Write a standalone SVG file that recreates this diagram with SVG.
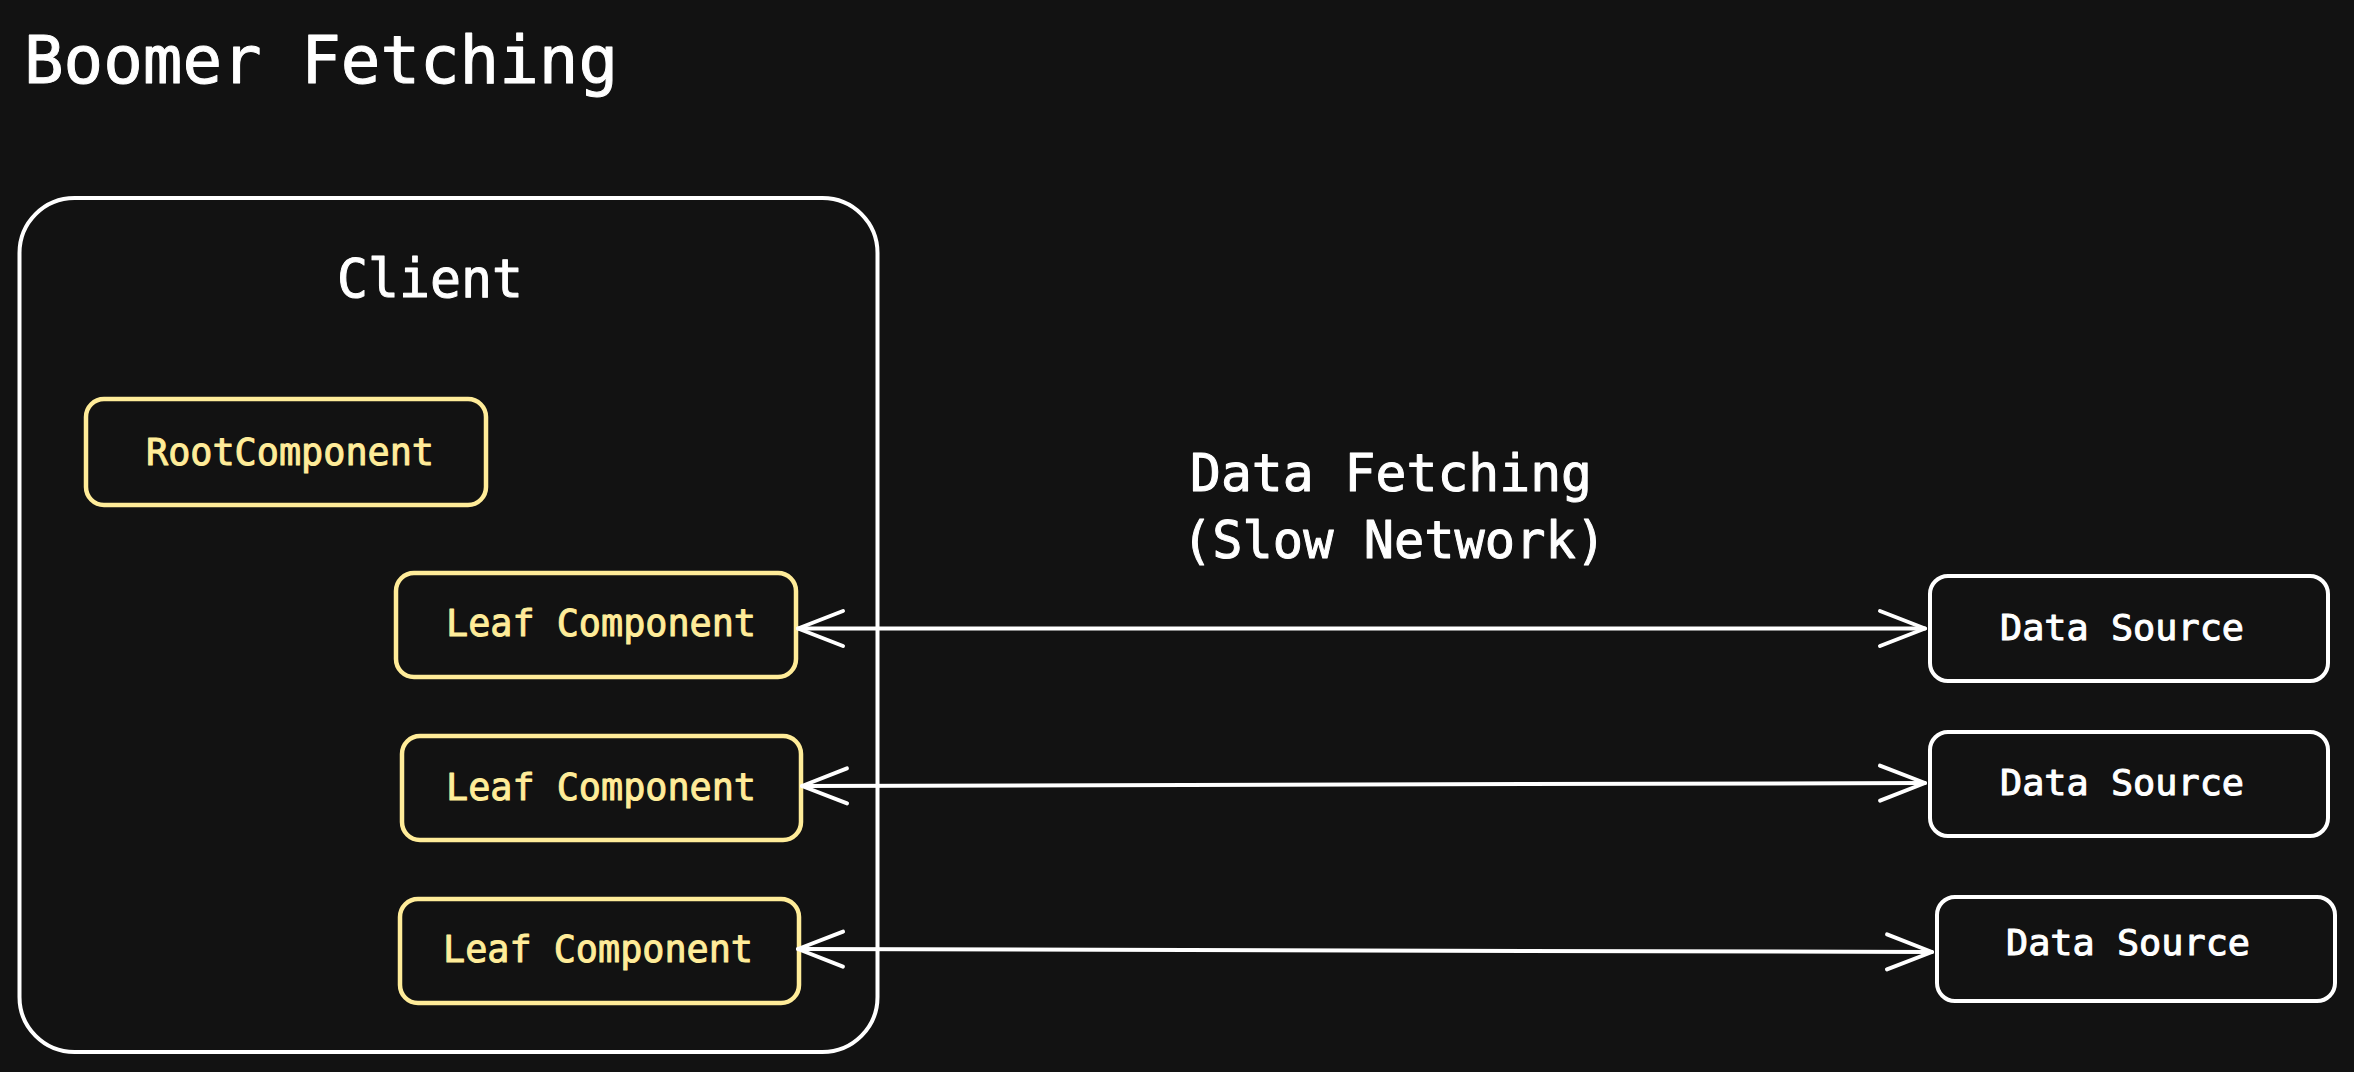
<svg xmlns="http://www.w3.org/2000/svg" width="2354" height="1072" viewBox="0 0 2354 1072">
  <style>
    .bg { fill: #121212; }
    .frame { fill: none; stroke: #ffffff; stroke-width: 4; }
    .ybox { fill: none; stroke: #ffec99; stroke-width: 4.5; }
    .wbox { fill: none; stroke: #ffffff; stroke-width: 4; }
    .t { font-family: "DejaVu Sans Mono", "Liberation Mono", monospace; stroke-width: 1; stroke-linejoin: round; }
    .white { fill: #ffffff; stroke: #ffffff; }
    .yellow { fill: #ffec99; stroke: #ffec99; }
    .conn { fill: none; stroke: #ffffff; stroke-width: 4; stroke-linecap: round; }
  </style>
  <defs>
    <marker id="head" markerUnits="userSpaceOnUse" markerWidth="60" markerHeight="50" refX="50" refY="20" orient="auto-start-reverse" overflow="visible">
      <path d="M5 2.5 L50 20 L5 37.5" fill="none" stroke="#ffffff" stroke-width="4" stroke-linecap="round" stroke-linejoin="round"/>
    </marker>
  </defs>
  <rect class="bg" x="0" y="0" width="2354" height="1072"/>

  <g id="title">
    <text class="t white" x="24" y="83" font-size="66" textLength="594" lengthAdjust="spacingAndGlyphs">Boomer Fetching</text>
  </g>

  <g id="client">
    <rect class="frame" x="19.5" y="198" width="858" height="854" rx="55" ry="55"/>
    <text class="t white" x="337" y="297" font-size="53" textLength="186" lengthAdjust="spacingAndGlyphs">Client</text>
  </g>

  <g id="root-component">
    <rect class="ybox" x="86" y="399" width="400" height="106" rx="18" ry="18"/>
    <text class="t yellow" x="146" y="465" font-size="38" textLength="288" lengthAdjust="spacingAndGlyphs">RootComponent</text>
  </g>

  <g id="leaf-1">
    <rect class="ybox" x="396" y="573" width="400" height="104" rx="18" ry="18"/>
    <text class="t yellow" x="446" y="636" font-size="38" textLength="310" lengthAdjust="spacingAndGlyphs">Leaf Component</text>
  </g>

  <g id="leaf-2">
    <rect class="ybox" x="402" y="736" width="399" height="104" rx="18" ry="18"/>
    <text class="t yellow" x="446" y="800" font-size="38" textLength="310" lengthAdjust="spacingAndGlyphs">Leaf Component</text>
  </g>

  <g id="leaf-3">
    <rect class="ybox" x="400" y="899" width="399" height="104" rx="18" ry="18"/>
    <text class="t yellow" x="443" y="962" font-size="38" textLength="310" lengthAdjust="spacingAndGlyphs">Leaf Component</text>
  </g>

  <g id="label-data-fetching">
    <text class="t white" x="1190" y="491" font-size="51" textLength="402" lengthAdjust="spacingAndGlyphs">Data Fetching</text>
    <text class="t white" x="1182" y="558" font-size="51" textLength="424" lengthAdjust="spacingAndGlyphs">(Slow Network)</text>
  </g>

  <g id="data-source-1">
    <rect class="wbox" x="1930" y="576" width="398" height="105" rx="18" ry="18"/>
    <text class="t white" x="2000" y="640" font-size="36" textLength="244" lengthAdjust="spacingAndGlyphs">Data Source</text>
  </g>

  <g id="data-source-2">
    <rect class="wbox" x="1930" y="732" width="398" height="104" rx="18" ry="18"/>
    <text class="t white" x="2000" y="795" font-size="36" textLength="244" lengthAdjust="spacingAndGlyphs">Data Source</text>
  </g>

  <g id="data-source-3">
    <rect class="wbox" x="1937" y="897" width="398" height="104" rx="18" ry="18"/>
    <text class="t white" x="2006" y="955" font-size="36" textLength="244" lengthAdjust="spacingAndGlyphs">Data Source</text>
  </g>

  <g id="connectors">
    <path class="conn" d="M798 628.5 L1925 628.5" marker-start="url(#head)" marker-end="url(#head)"/>
    <path class="conn" d="M802 786 L1925 783" marker-start="url(#head)" marker-end="url(#head)"/>
    <path class="conn" d="M798 949 L1932 952" marker-start="url(#head)" marker-end="url(#head)"/>
  </g>
</svg>
